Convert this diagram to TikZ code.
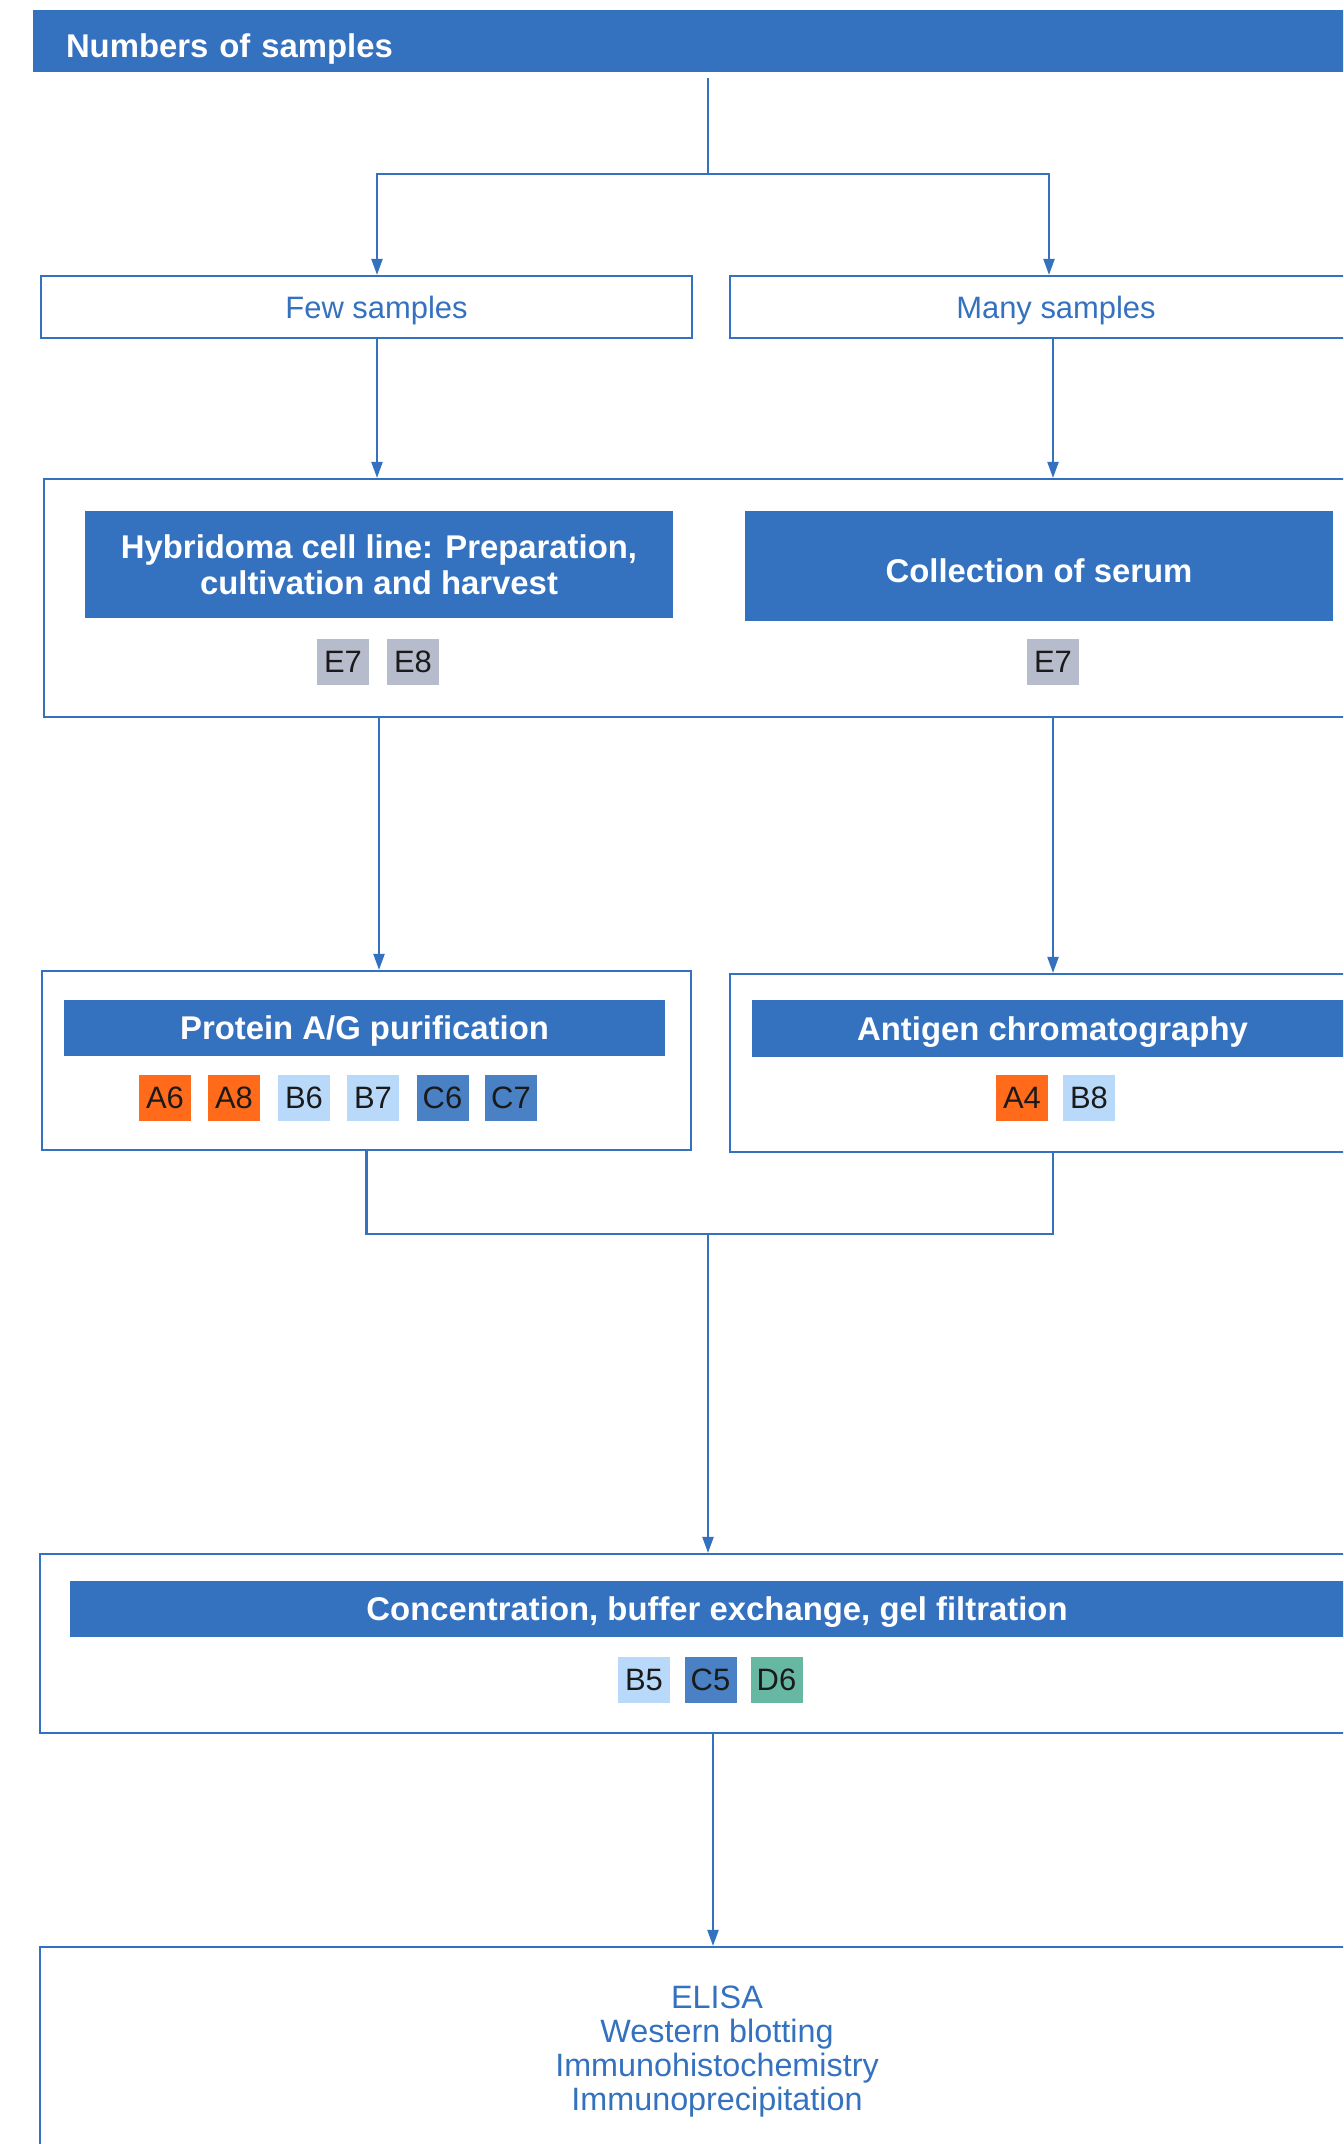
\documentclass[tikz,border=0pt]{standalone}
\usepackage{fontspec}
\setmainfont{Liberation Sans}
\usetikzlibrary{arrows.meta}
\definecolor{barblue}{HTML}{3471BF}
\definecolor{tagtext}{HTML}{1A1A1A}
\definecolor{taggray}{HTML}{B6BCCB}
\definecolor{tagorange}{HTML}{FF6B1A}
\definecolor{taglight}{HTML}{B9D9FA}
\definecolor{tagmid}{HTML}{4A80C4}
\definecolor{tagteal}{HTML}{66B8A3}
\begin{document}
\begin{tikzpicture}[x=0.1mm,y=-0.1mm,
    >={Triangle[length=1.6mm,width=1.1mm]},
    line/.style={draw=barblue,line width=0.6pt},
    frame/.style={draw=barblue,line width=0.6pt,inner sep=0pt,text=barblue,
        font=\fontsize{8.8}{9.7}\selectfont,align=center,text depth=0pt},
    bar/.style={fill=barblue,text=white,inner sep=0pt,
        font=\bfseries\fontsize{9.35}{10.1}\selectfont,align=center,text depth=0pt},
    tag/.style={minimum width=5.2mm,minimum height=4.6mm,inner sep=0pt,
        text=tagtext,font=\fontsize{8.8}{10}\selectfont}]
\useasboundingbox (0,0) rectangle (1343,2144);
\clip (0,0) rectangle (1343,2144);

\coordinate (colL) at (377,0);
\coordinate (colR) at (1053,0);
\coordinate (colRt) at (1049,0);
\coordinate (colM) at (708,0);
\coordinate (colC) at (713,0);
\coordinate (split) at (708,174);
\coordinate (join) at (708,1234);

% header
\node[bar,minimum width=136.7mm,minimum height=6.2mm,inner xsep=3.3mm,
    text width=130.1mm,align=left,text height=0.95em] (nos) at (716.5,41) {Numbers of samples};

% sample numbers
\node[frame,minimum width=65.1mm,minimum height=6.2mm] (few) at (366.5,307) {\hspace*{2mm}Few samples};
\node[frame,minimum width=65.2mm,minimum height=6.2mm] (many) at (1056,307) {Many samples};

% source of antibodies
\node[frame,minimum width=133mm,minimum height=23.8mm] (grp) at (709,598) {};
\node[bar,minimum width=58.8mm,minimum height=10.7mm] (hyb) at (379,564.5)
    {Hybridoma cell line: Preparation,\\cultivation and harvest};
\node[bar,minimum width=58.8mm,minimum height=11mm,text height=0.95em] (coll) at (1039,566) {Collection of serum};
\node[tag,fill=taggray] (hE7) at (343,662) {E7};
\node[tag,fill=taggray] (hE8) at (413,662) {E8};
\node[tag,fill=taggray] (sE7) at (1053,662) {E7};

% purification
\node[frame,minimum width=64.9mm,minimum height=17.9mm] (prot) at (366.5,1060.5) {};
\node[bar,minimum width=60.1mm,minimum height=5.6mm] (protbar) at (364.5,1028) {Protein A/G purification};
\node[tag,fill=tagorange] (pA6) at (165,1097.5) {A6};
\node[tag,fill=tagorange] (pA8) at (234,1097.5) {A8};
\node[tag,fill=taglight] (pB6) at (304,1097.5) {B6};
\node[tag,fill=taglight] (pB7) at (373,1097.5) {B7};
\node[tag,fill=tagmid] (pC6) at (442.5,1097.5) {C6};
\node[tag,fill=tagmid] (pC7) at (511,1097.5) {C7};

\node[frame,minimum width=64.9mm,minimum height=17.8mm] (antig) at (1054.5,1063) {};
\node[bar,minimum width=60.1mm,minimum height=5.7mm] (antbar) at (1052.5,1028.5) {Antigen chromatography};
\node[tag,fill=tagorange] (aA4) at (1022,1098) {A4};
\node[tag,fill=taglight] (aB8) at (1089,1098) {B8};

% polishing
\node[frame,minimum width=135.4mm,minimum height=17.9mm] (conc) at (717,1643.5) {};
\node[bar,minimum width=129.4mm,minimum height=5.6mm] (concbar) at (717,1609)
    {Concentration, buffer exchange, gel filtration};
\node[tag,fill=taglight] (cB5) at (644,1679.5) {B5};
\node[tag,fill=tagmid] (cC5) at (710.5,1679.5) {C5};
\node[tag,fill=tagteal] (cD6) at (776.5,1679.5) {D6};

% applications
\node[frame,minimum width=135.4mm,minimum height=20.2mm,font=\fontsize{9.2}{9.7}\selectfont] (appl) at (717,2048)
    {ELISA\\Western blotting\\Immunohistochemistry\\Immunoprecipitation};

% connectors
\draw[line,shorten <=0.5mm] (nos.south -| colM) -- (split);
\draw[line,->] (split) -| (few.north -| colL);
\draw[line,->] (split) -| (many.north -| colRt);
\draw[line,->] (few.south -| colL) -- (grp.north -| colL);
\draw[line,->] (many.south -| colR) -- (grp.north -| colR);
\draw[line,->] (grp.south -| hyb) -- (prot.north -| hyb);
\draw[line,->] (grp.south -| colR) -- (antig.north -| colR);
\draw[line] (prot.south) |- (join) -| (antig.south -| colR);
\draw[line,->] (join) -- (conc.north -| join);
\draw[line,->] (conc.south -| colC) -- (appl.north -| colC);
\end{tikzpicture}
\end{document}
